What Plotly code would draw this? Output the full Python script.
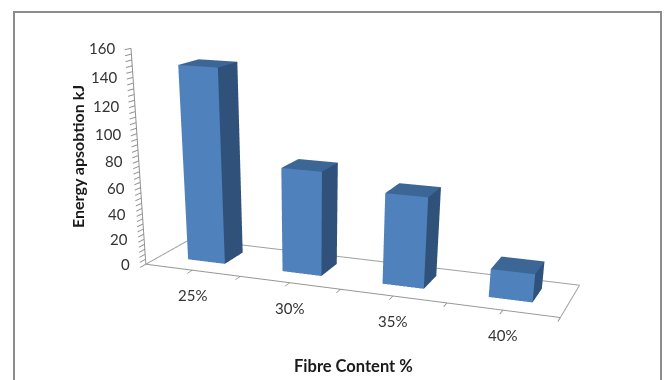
import plotly.graph_objects as go

categories = ["25%", "30%", "35%", "40%"]
energy = [147, 79, 68, 21]
value_ticks = [0, 20, 40, 60, 80, 100, 120, 140, 160]
minor_step = 4
x_title = "Fibre Content %"
y_title = "Energy apsobtion kJ"

FRONT, SIDE, TOP = "#4F81BD", "#30527A", "#3C6696"
AXIS = "#8F8F8F"
TEXT = "#333333"
PAGE_W, PAGE_H = 665, 939

half_width, depth_front, depth_back = 0.198, 0.314, 0.746

# the three faces of each bar that face the camera
vx, vy, vz, fi, fj, fk, fc = [], [], [], [], [], [], []


def quad(corners, colour):
    n = len(vx)
    for px, py, pz in corners:
        vx.append(px)
        vy.append(py)
        vz.append(pz)
    fi.extend([n, n])
    fj.extend([n + 1, n + 2])
    fk.extend([n + 2, n + 3])
    fc.extend([colour, colour])


for k, val in enumerate(energy):
    left, right = k + 0.5 - half_width, k + 0.5 + half_width
    quad([(left, depth_front, 0), (right, depth_front, 0), (right, depth_front, val), (left, depth_front, val)], FRONT)
    quad([(right, depth_front, 0), (right, depth_back, 0), (right, depth_back, val), (right, depth_front, val)], SIDE)
    quad([(left, depth_front, val), (right, depth_front, val), (right, depth_back, val), (left, depth_back, val)], TOP)

fig = go.Figure()
fig.add_trace(go.Mesh3d(x=vx, y=vy, z=vz, i=fi, j=fj, k=fk, facecolor=fc, flatshading=True, hoverinfo="skip",
                        lighting=dict(ambient=1, diffuse=0, specular=0, fresnel=0, roughness=1)))
n = len(categories)
fig.add_trace(go.Scatter3d(x=[0, 0, n, n, 0], y=[0, 1, 1, 0, 0], z=[0] * 5, mode="lines",
                           line=dict(color="#A0A0A0", width=2), hoverinfo="skip"))

label_font = dict(family="Lato", size=15, color=TEXT)
notes = [dict(x=k + 0.5, y=0, z=0, text=c, showarrow=False, yshift=-25, font=label_font)
         for k, c in enumerate(categories)]
notes += [dict(x=0, y=0, z=t, text=str(t), showarrow=False, xanchor="right", xshift=-14, font=label_font)
          for t in value_ticks]

x_tick_vals = [i / 2 for i in range(2 * n + 1)]
z_tick_vals = list(range(0, value_ticks[-1] + 1, minor_step))
common = dict(showgrid=False, zeroline=False, showbackground=False, showspikes=False, title=dict(text=""))

fig.update_layout(
    width=PAGE_W, height=PAGE_H, margin=dict(l=0, r=0, t=0, b=0), showlegend=False, paper_bgcolor="white",
    scene=dict(
        dragmode="orbit",
        domain=dict(x=[0, 1], y=[0, 1]), aspectmode="manual", aspectratio=dict(x=1, y=0.2368, z=0.4907),
        camera=dict(eye=dict(x=0.8524, y=-2.4401, z=0.5718), center=dict(x=-0.0486, y=-0.0290, z=-0.7580),
                    up=dict(x=-0.0064, y=-0.0080, z=1), projection=dict(type="perspective")),
        xaxis=dict(range=[0, n], tickvals=x_tick_vals, ticktext=[""] * len(x_tick_vals), showline=True,
                   linecolor=AXIS, linewidth=2, ticks="outside", ticklen=6, tickwidth=2, tickcolor=AXIS, **common),
        yaxis=dict(range=[0, 1], showline=False, showticklabels=False, ticks="", **common),
        zaxis=dict(range=[0, value_ticks[-1]], tickvals=z_tick_vals, ticktext=[""] * len(z_tick_vals), showline=True,
                   linecolor=AXIS, linewidth=2, ticks="outside", ticklen=6, tickwidth=2, tickcolor=AXIS, **common),
        annotations=notes,
    ),
    annotations=[
        dict(x=353 / PAGE_W, y=1 - 366 / PAGE_H, xref="paper", yref="paper", xanchor="center", yanchor="middle",
             text=f"<b>{x_title}</b>", showarrow=False, font=dict(family="Lato", size=16.5, color="#1A1A1A")),
        dict(x=77 / PAGE_W, y=1 - 157 / PAGE_H, xref="paper", yref="paper", xanchor="center", yanchor="middle",
             text=f"<b>{y_title}</b>", textangle=-90, showarrow=False,
             font=dict(family="Lato", size=16, color="#1A1A1A")),
    ],
    shapes=[dict(type="rect", xref="paper", yref="paper", x0=14 / PAGE_W, x1=661 / PAGE_W, y0=0, y1=1 - 12 / PAGE_H,
                 line=dict(color="#8C8C8C", width=2))],
)
fig.write_html("out.html")
